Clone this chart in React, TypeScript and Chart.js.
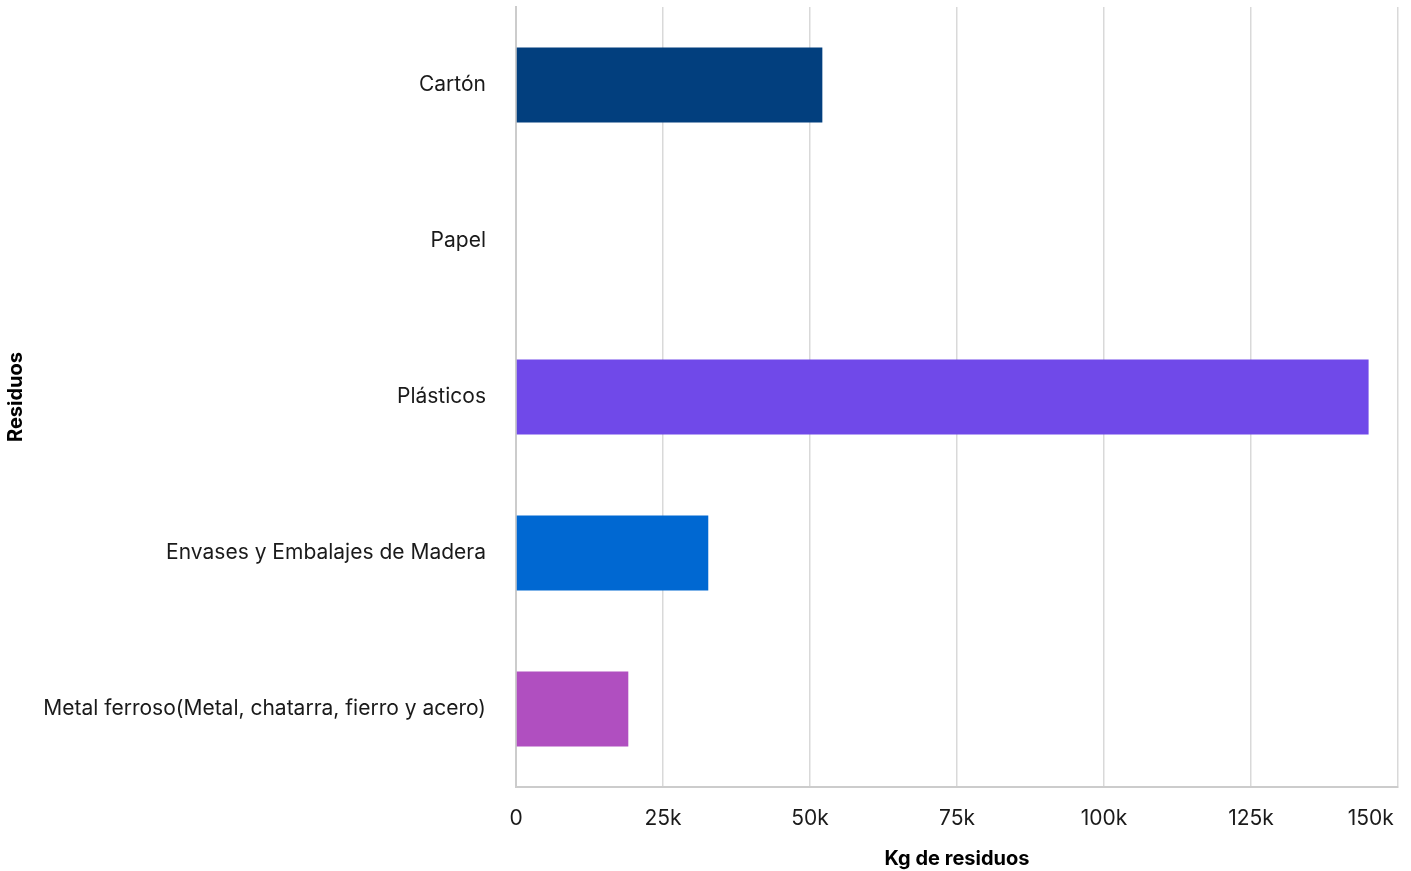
import React, { useEffect, useRef } from "react";
import { Chart, registerables } from "chart.js";

Chart.register(...registerables);

const categories = [
  "Cartón",
  "Papel",
  "Plásticos",
  "Envases y Embalajes de Madera",
  "Metal ferroso(Metal, chatarra, fierro y acero)",
];
const values = [52100, 0, 145000, 32700, 19100];
const barColors = ["#023f7e", "#0a5cc0", "#7049e9", "#0068d2", "#b04fc0"];
const tickValues = [0, 25000, 50000, 75000, 100000, 125000, 150000];
const tickLabels = ["0", "25k", "50k", "75k", "100k", "125k", "150k"];
const xTitle = "Kg de residuos";
const yTitle = "Residuos";

const FONT = "Inter, 'Noto Sans', sans-serif";

export default function App() {
  const ref = useRef<HTMLCanvasElement | null>(null);
  useEffect(() => {
    if (!ref.current) return;
    const chart = new Chart(ref.current, {
      type: "bar",
      data: {
        labels: categories,
        datasets: [
          {
            data: values,
            backgroundColor: barColors,
            barPercentage: 0.8,
            categoryPercentage: 0.6,
          },
        ],
      },
      options: {
        indexAxis: "y",
        animation: false,
        responsive: true,
        maintainAspectRatio: false,
        layout: { padding: { left: 0, right: 13, top: 7, bottom: 0 } },
        plugins: { legend: { display: false }, tooltip: { enabled: false } },
        scales: {
          x: {
            min: 0,
            max: 150000,
            afterBuildTicks: (axis: any) => {
              axis.ticks = tickValues.map((v) => ({ value: v }));
            },
            afterFit: (axis: any) => {
              axis.height = 84;
              axis.paddingLeft = 0;
              axis.paddingRight = 0;
            },
            ticks: {
              color: "#1a1a1a",
              font: { family: FONT, size: 21 },
              padding: 19,
              maxRotation: 0,
              callback: (v: any) => {
                const i = tickValues.indexOf(Number(v));
                if (i < 0) return "";
                const label = tickLabels[i];
                // keep the last label inside the canvas (end-aligned with its gridline)
                return i === tickValues.length - 1
                  ? label + "\u2007".repeat(label.length)
                  : label;
              },
            },
            grid: { color: "#d9d9d9", lineWidth: 1.5, drawTicks: false },
            border: { display: true, color: "#cccccc", width: 2 },
            title: {
              display: true,
              text: xTitle,
              color: "#000",
              font: { family: FONT, size: 20, weight: "bold" },
              padding: { top: 0, bottom: 0 },
            },
          },
          y: {
            afterFit: (axis: any) => {
              axis.width = 516;
              axis.paddingTop = 0;
              axis.paddingBottom = 0;
            },
            ticks: {
              color: "#1a1a1a",
              font: { family: FONT, size: 21 },
              padding: 30,
            },
            grid: { display: false, drawTicks: false },
            border: { display: true, color: "#cccccc", width: 2 },
            title: {
              display: true,
              text: yTitle,
              color: "#000",
              font: { family: FONT, size: 20, weight: "bold" },
              padding: { top: 4, bottom: 0 },
            },
          },
        },
      },
    });
    return () => chart.destroy();
  }, []);
  return (
    <div style={{ position: "fixed", left: 0, top: 0, width: 1411, height: 871, background: "#fff" }}>
      <canvas ref={ref} />
    </div>
  );
}
